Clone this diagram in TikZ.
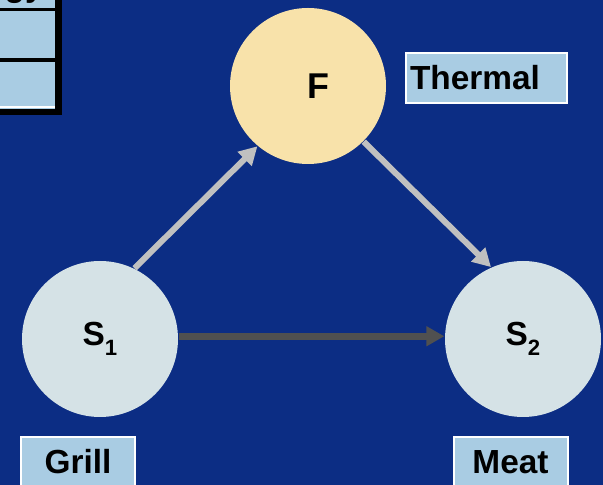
\documentclass[tikz,border=0pt]{standalone}
\usepackage{fontspec}
\setmainfont{Liberation Sans}
\usetikzlibrary{arrows.meta}
\definecolor{bgblue}{RGB}{12,45,132}
\definecolor{cellblue}{RGB}{169,204,227}
\definecolor{heatfill}{RGB}{248,226,170}
\definecolor{statefill}{RGB}{213,226,230}
\definecolor{lightarrow}{RGB}{192,192,192}
\definecolor{darkarrow}{RGB}{80,80,80}
\begin{document}
\begin{tikzpicture}[
  state/.style={circle, fill=statefill, minimum size=1.56cm, inner sep=0pt,
    font=\fontsize{9.5}{11}\selectfont\bfseries},
  tag/.style={rectangle, draw=white, line width=0.02cm, fill=cellblue,
    minimum width=1.14cm, minimum height=0.5cm, inner sep=0pt,
    font=\fontsize{9.5}{11}\selectfont\bfseries},
  flow/.style={-{Triangle[length=0.18cm,width=0.19cm]}, line width=0.06cm, lightarrow},
]
  \path[use as bounding box, fill=bgblue] (0,0) rectangle (6.03,4.85);

  % corner of the table
  \fill[cellblue] (0,4.85) rectangle (0.55,3.70);
  \node[anchor=base west, inner sep=0pt, font=\fontsize{9.5}{11}\selectfont\bfseries] (cut) at (0.04,4.88) {gy};
  \fill[white] (0,3.79) rectangle (0.55,3.77);
  \foreach \ytop/\ybot in {4.77/4.74, 4.27/4.23, 3.76/3.70} {
    \fill[black] (0,\ytop) rectangle (0.62,\ybot);
  }
  \fill[black] (0.55,4.85) rectangle (0.62,3.70);

  \node[state, fill=heatfill, font=\fontsize{10.2}{12}\selectfont\bfseries] (F) at (3.08,3.99) {\hspace*{0.2cm}F};
  \node[state] (S1) at (1.00,1.46) {S\raisebox{-0.1cm}{\fontsize{6.3}{7}\selectfont 1}};
  \node[state] (S2) at (5.23,1.46) {S\raisebox{-0.1cm}{\fontsize{6.3}{7}\selectfont 2}};

  \node[tag, minimum width=1.61cm] (thermal) at (4.86,4.07) {Thermal\hspace*{0.22cm}};
  \node[tag] (grill) at (0.78,0.23) {Grill};
  \node[tag] (meat) at (5.105,0.23) {Meat};

  \draw[flow] (S1.64) -- (F.230);
  \draw[flow] (F.315) -- (S2.114);
  \draw[flow, darkarrow, line width=0.07cm] (S1.2) -- (S2.178);
\end{tikzpicture}
\end{document}
